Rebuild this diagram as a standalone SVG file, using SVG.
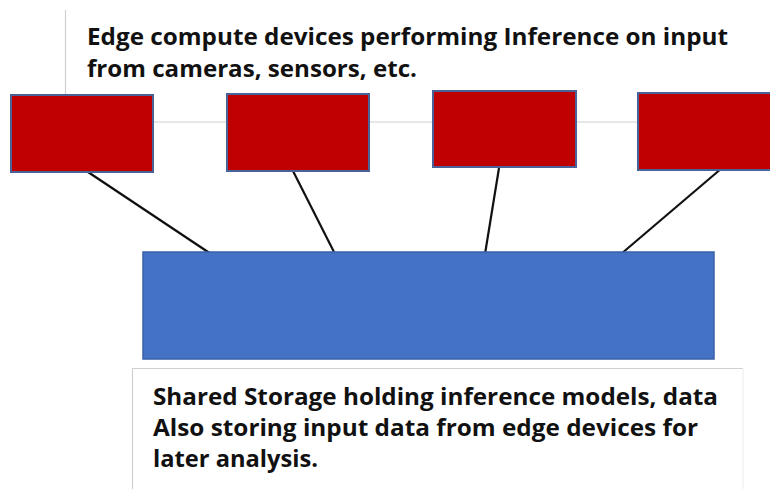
<svg xmlns="http://www.w3.org/2000/svg" width="770" height="489" viewBox="0 0 770 489">
<style>
.frame{fill:none;stroke:#d0d0d0;stroke-width:1.2}
.frame2{fill:none;stroke:#ececec;stroke-width:1}
.dev{fill:#c00000;stroke:#4a6199;stroke-width:2}
.store{fill:#4472c4;stroke:#3a62a8;stroke-width:1.5}
.conn{stroke:#111;stroke-width:2.2;fill:none}
.lbl{font-family:"Open Sans","Liberation Sans",sans-serif;font-weight:bold;font-size:23px;fill:#111}
</style>
<rect width="770" height="489" fill="#fff"/>
<g id="top-label">
<line class="frame" x1="65.5" y1="10" x2="65.5" y2="122"/>
<line class="frame" x1="65.5" y1="122" x2="770" y2="122"/>
<text class="lbl" x="87" y="45" textLength="641" lengthAdjust="spacingAndGlyphs">Edge compute devices performing Inference on input</text>
<text class="lbl" x="87" y="77" textLength="330" lengthAdjust="spacingAndGlyphs">from cameras, sensors, etc.</text>
</g>
<g id="connectors">
<line class="conn" x1="88" y1="172" x2="211" y2="254"/>
<line class="conn" x1="293" y1="171" x2="334" y2="252"/>
<line class="conn" x1="499" y1="168" x2="485" y2="254"/>
<line class="conn" x1="722" y1="168" x2="621" y2="254"/>
</g>
<g id="device1"><rect class="dev" x="11" y="95" width="142" height="77"/></g>
<g id="device2"><rect class="dev" x="227" y="94" width="142" height="77"/></g>
<g id="device3"><rect class="dev" x="433" y="91" width="143" height="76"/></g>
<g id="device4"><rect class="dev" x="638" y="93" width="140" height="77"/></g>
<g id="storage"><rect class="store" x="143" y="252" width="571" height="107"/></g>
<g id="bottom-label">
<polyline class="frame" points="132.5,489 132.5,368.5 743,368.5"/>
<line class="frame2" x1="743" y1="368.5" x2="743" y2="489"/>
<text class="lbl" x="153" y="405" textLength="565" lengthAdjust="spacingAndGlyphs">Shared Storage holding inference models, data</text>
<text class="lbl" x="153" y="436" textLength="545" lengthAdjust="spacingAndGlyphs">Also storing input data from edge devices for</text>
<text class="lbl" x="153" y="467" textLength="165" lengthAdjust="spacingAndGlyphs">later analysis.</text>
</g>
</svg>
